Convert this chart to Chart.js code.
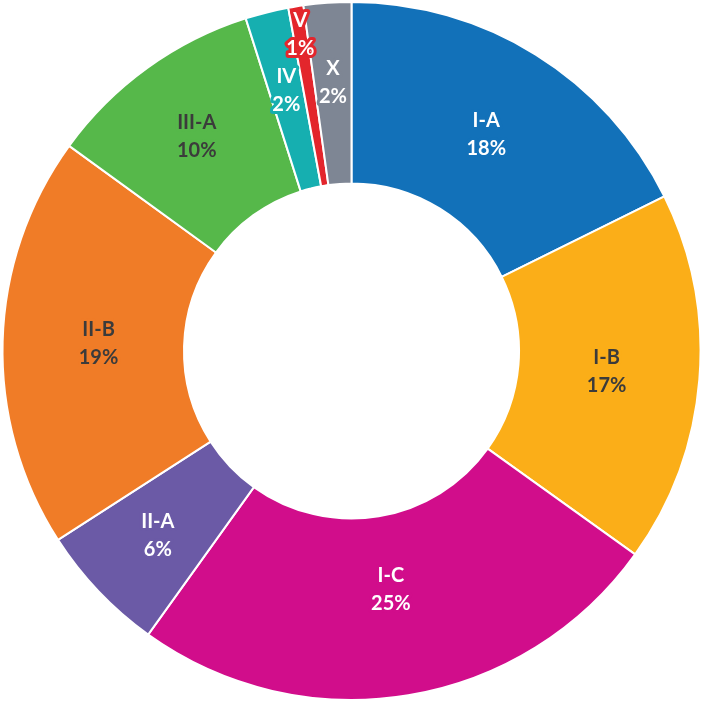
<!DOCTYPE html>
<html>
<head>
<meta charset="utf-8">
<script src="https://cdn.jsdelivr.net/npm/chart.js@4"></script>
<style>
  html, body { margin: 0; padding: 0; background: #ffffff; }
  #wrap { width: 703px; height: 702px; position: relative; }
</style>
</head>
<body>
<div id="wrap"><canvas id="c"></canvas></div>
<script>
const categories = ["I-A", "I-B", "I-C", "II-A", "II-B", "III-A", "IV", "V", "X"];
const shares = [17.7, 17.2, 25.0, 6.0, 19.1, 10.1, 2.0, 0.7, 2.2];
const percentLabels = ["18%", "17%", "25%", "6%", "19%", "10%", "2%", "1%", "2%"];
const sliceColors = ["#1271b9", "#fbae18", "#d10d8b", "#6b5aa6", "#f07c27", "#56b84a", "#16afb0", "#e3262c", "#7e8694"];
const textColors = ["#ffffff", "#3b3b3b", "#ffffff", "#ffffff", "#3b3b3b", "#3b3b3b", "#ffffff", "#ffffff", "#ffffff"];

const labelPlugin = {
  id: "sliceLabels",
  afterDatasetsDraw(chart) {
    const ctx = chart.ctx;
    const meta = chart.getDatasetMeta(0);
    ctx.save();
    ctx.font = "bold 20px Lato, 'DejaVu Sans', sans-serif";
    ctx.textAlign = "center";
    ctx.textBaseline = "middle";
    ctx.lineJoin = "round";
    meta.data.forEach((arc, i) => {
      const p = arc.getProps(["x", "y", "startAngle", "endAngle", "innerRadius", "outerRadius"], true);
      const theta = p.endAngle - p.startAngle;
      const mid = (p.startAngle + p.endAngle) / 2;
      const R = p.outerRadius, r = p.innerRadius;
      let rc = (2 / 3) * (R * R * R - r * r * r) / (R * R - r * r) * Math.sin(theta / 2) / (theta / 2);
      if (theta < 0.06) rc = R - 28; // push very thin slices outward to avoid overlap
      const cx = p.x + Math.cos(mid) * rc;
      const cy = p.y + Math.sin(mid) * rc;
      const lines = [categories[i], percentLabels[i]];
      lines.forEach((t, k) => {
        const y = cy + (k - 0.5) * 28;
        ctx.lineWidth = 6;
        ctx.strokeStyle = sliceColors[i];
        ctx.strokeText(t, cx, y);
        ctx.fillStyle = textColors[i];
        ctx.fillText(t, cx, y);
      });
    });
    ctx.restore();
  }
};

new Chart(document.getElementById("c"), {
  type: "doughnut",
  data: {
    labels: categories,
    datasets: [{
      data: shares,
      backgroundColor: sliceColors,
      borderColor: "#ffffff",
      borderWidth: 2,
      hoverOffset: 0
    }]
  },
  options: {
    responsive: true,
    maintainAspectRatio: false,
    animation: false,
    cutout: "48%",
    layout: { padding: 1 },
    plugins: {
      legend: { display: false },
      tooltip: { enabled: false }
    }
  },
  plugins: [labelPlugin]
});
</script>
</body>
</html>
